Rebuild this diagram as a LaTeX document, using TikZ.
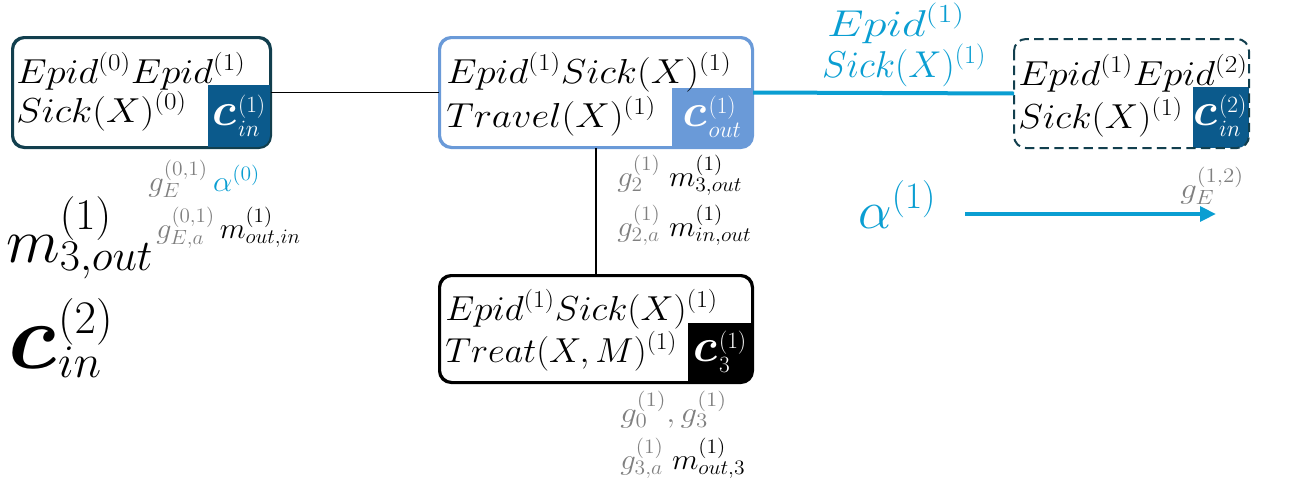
\documentclass[tikz,border=0pt]{standalone}
\usepackage{fix-cm}
\usepackage{bm}
\usepackage{graphicx}
\usetikzlibrary{arrows.meta}
\definecolor{teal}{HTML}{123F4E}
\definecolor{navy}{HTML}{0B5A8C}
\definecolor{sky}{HTML}{6A9AD8}
\definecolor{cyan}{HTML}{0A9ED2}
\definecolor{gry}{HTML}{808080}
% widen math a little, to give it the look of a broad text face
\newcommand{\W}[1]{\scalebox{1.12}[1]{#1}}
% the heavy cluster letter c, with its superscript and a lowered subscript
\newcommand{\cc}{\mbox{\scalebox{1.4}{$\bm{c}$}\kern1.5pt}}
\newcommand{\clu}[2]{\cc^{#1}_{\lower2.5pt\hbox{$\scriptstyle #2$}}}
\tikzset{
  box/.style={rounded corners=9pt, line width=1.5pt, inner sep=0pt},
  boxtxt/.style={anchor=base west, inner sep=0pt, font=\fontsize{26}{30}\selectfont},
  cornertxt/.style={anchor=center, inner sep=0pt, text=white, font=\fontsize{25}{30}\selectfont},
  lbl/.style={anchor=base west, inner sep=0pt, font=\fontsize{22}{26}\selectfont},
  big/.style={anchor=base west, inner sep=0pt, font=\fontsize{50}{54}\selectfont},
  link/.style={line width=1.3pt},
}
\begin{document}
\begin{tikzpicture}[x=0.75pt, y=-0.75pt]
\useasboundingbox (0,0) rectangle (1312,486);

% ---- cluster boxes
\node[box, draw=teal, minimum width=257*0.75pt, minimum height=109*0.75pt] (A) at (141.5,92.5) {};
\node[box, draw=sky, minimum width=312*0.75pt, minimum height=109*0.75pt] (B) at (596,92.5) {};
\node[box, draw=black, minimum width=312*0.75pt, minimum height=106*0.75pt] (C) at (596,329) {};
\node[box, minimum width=233*0.75pt, minimum height=107*0.75pt] (D) at (1131.5,93.5) {};

% ---- coloured corner blocks, cut to the rounded outline
\begin{scope}
  \clip[rounded corners=9pt] (A.north west) rectangle (A.south east);
  \fill[navy] (208,85) rectangle (A.south east);
\end{scope}
\begin{scope}
  \clip[rounded corners=9pt] (B.north west) rectangle (B.south east);
  \fill[sky] (672,88) rectangle (B.south east);
\end{scope}
\begin{scope}
  \clip[rounded corners=9pt] (C.north west) rectangle (C.south east);
  \fill[black] (688,323) rectangle (C.south east);
\end{scope}
\begin{scope}
  \clip[rounded corners=9pt] (D.north west) rectangle (D.south east);
  \fill[navy] (1193,87) rectangle (D.south east);
\end{scope}
\draw[box, draw=teal] (A.north west) rectangle (A.south east);
\draw[box, draw=sky] (B.north west) rectangle (B.south east);
\draw[box, draw=black] (C.north west) rectangle (C.south east);
\draw[box, draw=teal, dash pattern=on 7pt off 4pt] (D.north west) rectangle (D.south east);

% ---- box contents
\node[boxtxt] (a1) at (16,83) {\W{$Epid^{(0)}Epid^{(1)}$}};
\node[boxtxt] (a2) at (16,122) {\W{$Sick(X)^{(0)}$}};
\node[cornertxt] (ac) at (239,116) {$\clu{(1)}{in}$};

\node[boxtxt] (b1) at (446,83) {\W{$Epid^{(1)}Sick(X)^{(1)}$}};
\node[boxtxt] (b2) at (446,127) {\W{$Travel(X)^{(1)}$}};
\node[cornertxt] (bc) at (712,117) {$\clu{(1)}{out}$};

\node[boxtxt] (c1) at (445,320) {\scalebox{1.07}[1]{$Epid^{(1)}Sick(X)^{(1)}$}};
\node[boxtxt] (c2) at (445,362) {\scalebox{1.05}[1]{$Treat(X,M)^{(1)}$}};
\node[cornertxt] (cc) at (720,352) {$\clu{(1)}{3}$};

\node[boxtxt] (d1) at (1018,85) {\W{$Epid^{(1)}Epid^{(2)}$}};
\node[boxtxt] (d2) at (1018,128) {\scalebox{1.08}[1]{$Sick(X)^{(1)}$}};
\node[cornertxt] (dc) at (1220,116) {$\clu{(2)}{in}$};

% ---- connectors
\draw[link] (A.east) -- (B.west);
\draw[link] (B.south) -- (C.north);
\draw[cyan, line width=3pt] (B.east) -- (D.west);
\node[anchor=base, inner sep=0pt, text=cyan, font=\fontsize{28}{30}\selectfont] (e1) at (896,36) {\scalebox{1.25}[1]{$Epid^{(1)}$}};
\node[anchor=base, inner sep=0pt, text=cyan, font=\fontsize{28}{30}\selectfont] (e2) at (904,77) {$Sick(X)^{(1)}$};

% ---- legend arrow
\coordinate (ar0) at (965,214);
\coordinate (ar1) at (1216,214);
\draw[cyan, line width=3pt, -{Triangle[length=12pt,width=11pt]}] (ar0) -- (ar1);
\node[anchor=base west, inner sep=0pt, text=cyan, font=\fontsize{40}{44}\selectfont] (al) at (858,228) {$\alpha^{(1)}$};
\node[lbl, text=gry] (ge12) at (1180,198) {\W{$g_E^{(1,2)}$}};

% ---- annotations
\node[lbl] (la1) at (148,191) {\scalebox{1.05}[1]{$\color{gry}g_E^{(0,1)}\,\color{cyan}\alpha^{(0)}$}};
\node[lbl] (la2) at (156,238) {\scalebox{1.03}[1]{$\color{gry}g_{E,a}^{(0,1)}\,\color{black}m_{out,in}^{(1)}$}};
\node[lbl] (lb1) at (617,186) {\scalebox{1.05}[1]{$\color{gry}g_2^{(1)}\;\color{black}m_{3,out}^{(1)}$}};
\node[lbl] (lb2) at (617,236) {\scalebox{1.05}[1]{$\color{gry}g_{2,a}^{(1)}\;\color{black}m_{in,out}^{(1)}$}};
\node[lbl] (lc1) at (620,422) {\W{$\color{gry}g_0^{(1)},g_3^{(1)}$}};
\node[lbl] (lc2) at (620,469) {\scalebox{1.05}[1]{$\color{gry}g_{3,a}^{(1)}\;\color{black}m_{out,3}^{(1)}$}};

\node[big, font=\fontsize{47}{52}\selectfont] (m3) at (6,262) {$m_{3,out}^{(1)}$};
\node[big] (cin) at (8,368) {$\cc_{in}^{(2)}$};
\end{tikzpicture}
\end{document}
